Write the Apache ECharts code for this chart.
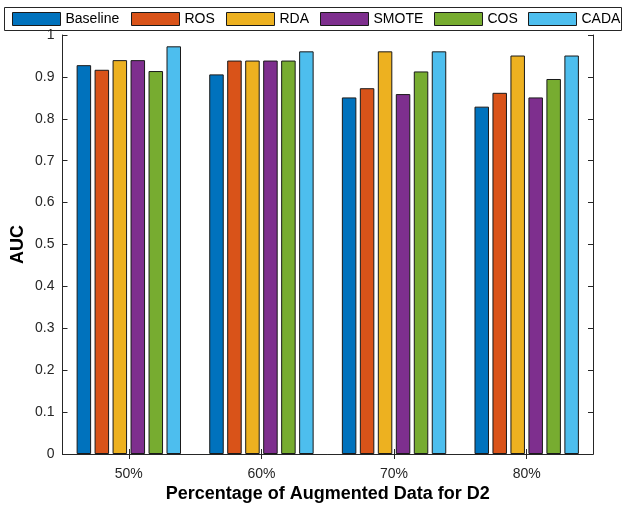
<!DOCTYPE html>
<html>
<head>
<meta charset="utf-8">
<script src="https://cdn.jsdelivr.net/npm/echarts@6/dist/echarts.min.js"></script>
<style>
  html, body { margin: 0; padding: 0; background: #fff; }
  #chart { width: 623px; height: 505px; }
</style>
</head>
<body>
<div id="chart"></div>
<script>
// AUC per augmentation percentage for each method (dataset D2)
const categories = ['50%', '60%', '70%', '80%'];
const methods = ['Baseline', 'ROS', 'RDA', 'SMOTE', 'COS', 'CADA'];
const baseline = [0.928, 0.906, 0.851, 0.829];
const ros      = [0.917, 0.939, 0.873, 0.862];
const rda      = [0.940, 0.939, 0.961, 0.951];
const smote    = [0.940, 0.939, 0.859, 0.851];
const cos      = [0.914, 0.939, 0.913, 0.895];
const cada     = [0.973, 0.961, 0.961, 0.951];
const yTickLabels = ['0', '0.1', '0.2', '0.3', '0.4', '0.5', '0.6', '0.7', '0.8', '0.9', '1'];

const seriesValues = [baseline, ros, rda, smote, cos, cada];
const colors = ['#0072BD', '#D95319', '#EDB120', '#7E2F8E', '#77AC30', '#4DBEEE'];
// horizontal offset of each legend entry inside the legend strip
const legendLeft = [12, 131, 226, 320, 434, 528];

const font = 'Liberation Sans, Arial, Helvetica, sans-serif';
const chart = echarts.init(document.getElementById('chart'), null, { renderer: 'canvas' });

const axisLine = { show: true, lineStyle: { color: '#262626', width: 1 } };
const tick = { show: true, inside: true, length: 5, lineStyle: { color: '#262626' } };

chart.setOption({
  animation: false,
  textStyle: { fontFamily: font },
  color: colors,
  graphic: [{
    type: 'rect',
    shape: { x: 4.5, y: 7.5, width: 617, height: 23 },
    style: { fill: '#fff', stroke: '#262626', lineWidth: 1 },
    z: 0
  }],
  legend: methods.map((name, i) => ({
    data: [name],
    left: legendLeft[i],
    top: 12,
    padding: 0,
    itemWidth: 48,
    itemHeight: 13,
    icon: 'rect',
    textStyle: { fontFamily: font, fontSize: 14, color: '#000' },
    itemStyle: { borderColor: '#1a1a1a', borderWidth: 1 },
    z: 5
  })),
  grid: { left: 62.5, right: 30, top: 35, bottom: 51, containLabel: false, outerBoundsMode: 'none' },
  xAxis: [{
    type: 'category',
    data: categories,
    position: 'bottom',
    axisLine: axisLine,
    axisTick: Object.assign({ alignWithLabel: true }, tick),
    axisLabel: { fontSize: 14, color: '#262626', margin: 13, fontFamily: font },
    name: 'Percentage of Augmented Data for D2',
    nameLocation: 'middle',
    nameGap: 31,
    nameMoveOverlap: false,
    nameTextStyle: { fontSize: 18, fontWeight: 'bold', color: '#000', fontFamily: font }
  }, {
    type: 'category',
    data: categories,
    position: 'top',
    axisLine: axisLine,
    axisTick: Object.assign({ alignWithLabel: true }, tick),
    axisLabel: { show: false }
  }],
  yAxis: [{
    type: 'value',
    min: 0, max: 1, interval: 0.1,
    position: 'left',
    axisLine: axisLine,
    axisTick: tick,
    splitLine: { show: false },
    axisLabel: {
      fontSize: 14, color: '#262626', margin: 8, fontFamily: font,
      formatter: (v) => yTickLabels[Math.round(v * 10)]
    },
    name: 'AUC',
    nameLocation: 'middle',
    nameGap: 35,
    nameMoveOverlap: false,
    nameRotate: 90,
    nameTextStyle: { fontSize: 18, fontWeight: 'bold', color: '#000', fontFamily: font }
  }, {
    type: 'value',
    min: 0, max: 1, interval: 0.1,
    position: 'right',
    axisLine: axisLine,
    axisTick: tick,
    splitLine: { show: false },
    axisLabel: { show: false }
  }],
  series: methods.map((name, i) => ({
    name: name,
    type: 'bar',
    data: seriesValues[i],
    barWidth: 14.5,
    barGap: '24%',
    itemStyle: { color: colors[i], borderColor: '#1a1a1a', borderWidth: 1 },
    z: 2
  }))
});
</script>
</body>
</html>
